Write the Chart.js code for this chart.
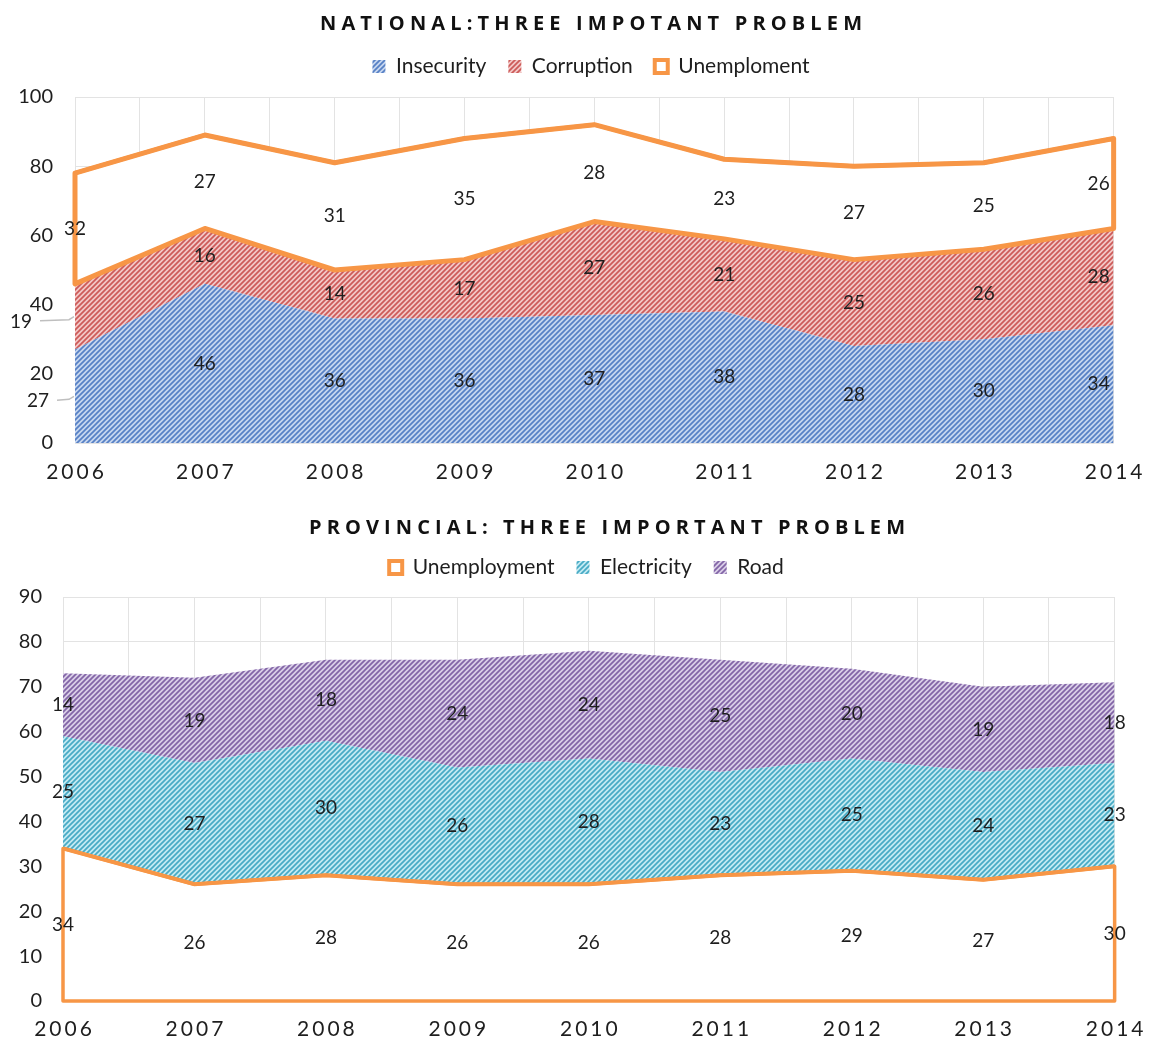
<!DOCTYPE html>
<html>
<head>
<meta charset="utf-8">
<script src="https://cdn.jsdelivr.net/npm/chart.js@4.4.1/dist/chart.umd.min.js"></script>
<style>
  html, body { margin: 0; padding: 0; background: #ffffff; }
  canvas { display: block; }
</style>
</head>
<body>
<canvas id="national" width="1155" height="495"></canvas>
<canvas id="provincial" width="1155" height="547"></canvas>
<script>
// ---------------- DATA ----------------
const years = ['2006', '2007', '2008', '2009', '2010', '2011', '2012', '2013', '2014'];

const nationalTitle = 'NATIONAL:THREE IMPOTANT PROBLEM';
const nationalSeriesNames = ['Insecurity', 'Corruption', 'Unemploment'];
const natInsecurity   = [27, 46, 36, 36, 37, 38, 28, 30, 34];
const natCorruption   = [19, 16, 14, 17, 27, 21, 25, 26, 28];
const natUnemployment = [32, 27, 31, 35, 28, 23, 27, 25, 26];

const provincialTitle = 'PROVINCIAL: THREE IMPORTANT PROBLEM';
const provincialSeriesNames = ['Unemployment', 'Electricity', 'Road'];
const provUnemployment = [34, 26, 28, 26, 26, 28, 29, 27, 30];
const provElectricity  = [25, 27, 30, 26, 28, 23, 25, 24, 23];
const provRoad         = [14, 19, 18, 24, 24, 25, 20, 19, 18];

const natYMax = 100, natYStep = 20;
const provYMax = 90, provYStep = 10;

// ---------------- HELPERS ----------------
const FONT = "Lato, 'Open Sans', sans-serif";
const ORANGE = '#f79646';
const TEXT = '#1e1e1e';

function hatch(bg, fg) {
  const c = document.createElement('canvas');
  c.width = 5; c.height = 5;
  const g = c.getContext('2d');
  g.fillStyle = bg; g.fillRect(0, 0, 5, 5);
  g.strokeStyle = fg; g.lineWidth = 1.7;
  g.beginPath();
  g.moveTo(-1, 6); g.lineTo(6, -1);
  g.moveTo(-1, 1); g.lineTo(1, -1);
  g.moveTo(4, 6); g.lineTo(6, 4);
  g.stroke();
  return document.createElement('canvas').getContext('2d').createPattern(c, 'repeat');
}
const toXY = arr => arr.map((v, i) => ({ x: i, y: v }));

// x-axis scale whose tick labels are letter-spaced
class SpacedLinearScale extends Chart.LinearScale {
  drawLabels(area) {
    const ctx = this.ctx;
    ctx.save();
    ctx.letterSpacing = '3px';
    ctx.translate(1.5, 0);
    super.drawLabels(area);
    ctx.restore();
  }
}
SpacedLinearScale.id = 'spacedLinear';
SpacedLinearScale.defaults = Chart.LinearScale.defaults;
Chart.register(SpacedLinearScale);

// title drawn with letter spacing
const spacedTitle = {
  id: 'spacedTitle',
  afterDraw(chart, args, o) {
    const ctx = chart.ctx;
    ctx.save();
    ctx.font = "bold 20px 'Open Sans', sans-serif";
    ctx.fillStyle = '#111';
    ctx.textBaseline = 'alphabetic';
    ctx.textAlign = 'left';
    const n = o.text.length;
    const w = ctx.measureText(o.text).width;
    const ls = (o.right - o.left - w) / (n - 1);
    ctx.letterSpacing = ls + 'px';
    ctx.fillText(o.text, o.left, o.baseline);
    ctx.restore();
  }
};

// add room below the legend and move it sideways
const legendPlace = {
  id: 'legendPlace',
  beforeLayout(chart, args, o) {
    const lg = chart.legend;
    if (lg && !lg._gapWrapped) {
      const f = lg.fit;
      lg.fit = function () { f.call(this); this.height += o.extra; };
      lg._gapWrapped = true;
    }
  },
  afterLayout(chart, args, o) {
    const lg = chart.legend;
    if (lg) { lg.left += o.dx; lg.right += o.dx; }
  }
};

// complete outline for one stacked area
const areaOutline = {
  id: 'areaOutline',
  afterDatasetsDraw(chart, args, o) {
    const ctx = chart.ctx;
    const top = chart.getDatasetMeta(o.dataset).data.map(p => ({ x: p.x, y: p.y }));
    let bottom;
    if (o.dataset > 0) {
      bottom = chart.getDatasetMeta(o.dataset - 1).data.map(p => ({ x: p.x, y: p.y }));
    } else {
      const y0 = chart.scales.y.getPixelForValue(0);
      bottom = top.map(p => ({ x: p.x, y: y0 }));
    }
    ctx.save();
    ctx.beginPath();
    top.forEach((p, i) => i ? ctx.lineTo(p.x, p.y) : ctx.moveTo(p.x, p.y));
    for (let i = bottom.length - 1; i >= 0; i--) ctx.lineTo(bottom[i].x, bottom[i].y);
    ctx.closePath();
    ctx.lineJoin = 'round';
    ctx.strokeStyle = o.color;
    ctx.lineWidth = o.width;
    ctx.stroke();
    ctx.restore();
  }
};

// value labels in the middle of each band
const bandLabels = {
  id: 'bandLabels',
  afterDatasetsDraw(chart, args, o) {
    const { ctx } = chart;
    const xs = chart.scales.x, ys = chart.scales.y;
    const series = chart.data.datasets.map(d => d.data.map(p => p.y));
    ctx.save();
    ctx.font = '19px ' + FONT;
    ctx.fillStyle = TEXT;
    ctx.textAlign = 'center';
    ctx.textBaseline = 'middle';
    const shifts = o.shifts || [];
    series.forEach((vals, di) => vals.forEach((v, j) => {
      let base = 0;
      for (let k = 0; k < di; k++) base += series[k][j];
      const px = xs.getPixelForValue(j);
      const py = ys.getPixelForValue(base + v / 2);
      const s = shifts.find(s => s.ds === di && s.idx === j) ||
                shifts.find(s => s.ds == null && s.idx === j) || { dx: 0, dy: 0 };
      const lx = px + (s.dx || 0), ly = py + (s.dy || 0);
      ctx.fillText(String(v), lx, ly);
      if (s.leader) {
        const tw = ctx.measureText(String(v)).width;
        ctx.save();
        ctx.strokeStyle = '#bfbfbf';
        ctx.lineWidth = 1.5;
        ctx.beginPath();
        ctx.moveTo(lx + tw / 2 + 8, ly - 1);
        ctx.lineTo(px - 6, ly - 2);
        ctx.lineTo(px - 1, py);
        ctx.stroke();
        ctx.restore();
      }
    }));
    ctx.restore();
  }
};

function makeChart(id, cfg) {
  return new Chart(document.getElementById(id), {
    type: 'line',
    data: {
      datasets: cfg.datasets
    },
    plugins: [spacedTitle, legendPlace, areaOutline, bandLabels],
    options: {
      responsive: false,
      devicePixelRatio: 1,
      animation: false,
      layout: { padding: cfg.padding },
      elements: { point: { radius: 0, hoverRadius: 0 }, line: { tension: 0 } },
      plugins: {
        tooltip: { enabled: false },
        title: { display: false },
        legend: {
          display: true,
          position: 'top',
          labels: {
            font: { family: FONT, size: 21 },
            color: TEXT,
            boxWidth: 13,
            boxHeight: 13,
            padding: 22
          }
        },
        spacedTitle: cfg.title,
        legendPlace: cfg.legend,
        areaOutline: cfg.outline,
        bandLabels: { shifts: cfg.shifts }
      },
      scales: {
        x: {
          type: 'spacedLinear',
          min: 0, max: years.length - 1,
          afterBuildTicks: s => { s.ticks = []; for (let v = 0; v <= years.length - 1; v += 0.5) s.ticks.push({ value: v }); },
          afterFit: s => { s.height = cfg.xHeight; },
          grid: { color: '#e3e3e3', lineWidth: 1, drawTicks: false },
          border: { display: false },
          ticks: {
            autoSkip: false,
            maxRotation: 0,
            padding: cfg.xPad,
            color: TEXT,
            font: { family: FONT, size: 21 },
            callback: v => Number.isInteger(v) ? years[v] : ''
          }
        },
        y: {
          stacked: true,
          min: 0, max: cfg.yMax,
          afterFit: s => { s.width = cfg.yWidth; },
          grid: { color: '#e3e3e3', lineWidth: 1, drawTicks: false },
          border: { display: false },
          ticks: {
            stepSize: cfg.yStep,
            padding: cfg.yPad,
            color: TEXT,
            font: { family: FONT, size: 20 }
          }
        }
      }
    }
  });
}

// ---------------- NATIONAL ----------------
makeChart('national', {
  datasets: [
    { label: nationalSeriesNames[0], data: toXY(natInsecurity), fill: 'origin',
      backgroundColor: hatch('#c6d6ef', '#5680c5'), borderWidth: 0, borderColor: 'rgba(0,0,0,0)' },
    { label: nationalSeriesNames[1], data: toXY(natCorruption), fill: '-1',
      backgroundColor: hatch('#f2c7c6', '#cd5a58'), borderWidth: 0, borderColor: 'rgba(0,0,0,0)' },
    { label: nationalSeriesNames[2], data: toXY(natUnemployment), fill: '-1',
      backgroundColor: '#ffffff', borderWidth: 4, borderColor: ORANGE }
  ],
  padding: { top: 34, left: 0, right: 41, bottom: 0 },
  legend: { extra: 10, dx: 34 },
  xHeight: 52, xPad: 17,
  yWidth: 75, yPad: 22,
  yMax: natYMax, yStep: natYStep,
  title: { text: nationalTitle, left: 320, right: 862, baseline: 29.5 },
  outline: { dataset: 2, color: ORANGE, width: 5 },
  shifts: [
    { ds: 0, idx: 0, dx: -37, dy: 5, leader: true },
    { ds: 1, idx: 0, dx: -54, dy: 5, leader: true },
    { idx: 8, dx: -15, dy: 0 }
  ]
});

// ---------------- PROVINCIAL ----------------
makeChart('provincial', {
  datasets: [
    { label: provincialSeriesNames[0], data: toXY(provUnemployment), fill: 'origin',
      backgroundColor: '#ffffff', borderWidth: 4, borderColor: ORANGE },
    { label: provincialSeriesNames[1], data: toXY(provElectricity), fill: '-1',
      backgroundColor: hatch('#c3eaf2', '#47aac5'), borderWidth: 0, borderColor: 'rgba(0,0,0,0)' },
    { label: provincialSeriesNames[2], data: toXY(provRoad), fill: '-1',
      backgroundColor: hatch('#d9cee7', '#8264a6'), borderWidth: 0, borderColor: 'rgba(0,0,0,0)' }
  ],
  padding: { top: 40, left: 0, right: 37, bottom: 0 },
  legend: { extra: 9, dx: 27.5 },
  xHeight: 41, xPad: 16,
  yWidth: 63, yPad: 21,
  yMax: provYMax, yStep: provYStep,
  title: { text: provincialTitle, left: 309, right: 905, baseline: 38.5 },
  outline: { dataset: 0, color: ORANGE, width: 3.5 },
  shifts: []
});
</script>
</body>
</html>
